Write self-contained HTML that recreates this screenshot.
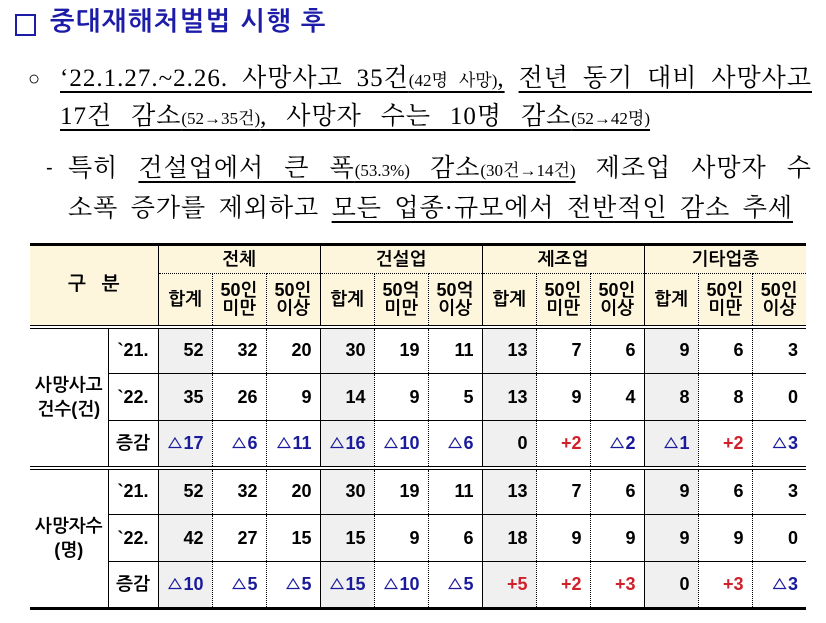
<!DOCTYPE html>
<html><head><meta charset="utf-8"><style>
body{margin:0;width:826px;height:623px;background:#fff;position:relative;overflow:hidden;font-family:"Liberation Sans","NanumGothic","Noto Sans CJK KR",sans-serif;}
.a{position:absolute;white-space:nowrap;}
.title{left:50px;top:6px;font-size:26px;font-weight:bold;color:#1c1ca8;letter-spacing:1.5px;}
.box{position:absolute;left:15px;top:14px;width:17px;height:18px;border:2px solid #1c1ca8;}
.ln{position:absolute;font-family:"Liberation Serif","Noto Serif CJK SC","NanumGothic",serif;font-size:25px;color:#000;text-align:justify;text-align-last:justify;white-space:nowrap;height:32px;line-height:32px;letter-spacing:1px;}
.s{font-size:17px;letter-spacing:0;}
.u{text-decoration:underline;text-underline-offset:5px;text-decoration-thickness:1.5px;}
table{position:absolute;left:30px;top:243px;border-collapse:collapse;table-layout:fixed;font-weight:bold;font-size:18px;}
td{padding:0;text-align:center;border:1px dotted #000;overflow:hidden;}
.h td{background:#fdf6dc;}
td.n{text-align:right;padding-right:8px;}
.g{background:#f0f0f0;}
.bl{color:#1a1a9c;}.rd{color:#d0202a;}
.sl{border-left:1px solid #000;}
tr.d{height:47px;}
</style></head><body>
<div class="box"></div>
<div class="a title">중대재해처벌법 시행 후</div>
<div class="a" style="left:28px;top:68px;font-size:20px;">○</div>
<div class="ln" style="left:60px;top:63px;width:752px;"><span class="u">‘22.1.27.~2.26. 사망사고 35건<span class="s">(42명 사망)</span>,</span> <span class="u">전년 동기 대비 사망사고</span></div>
<div class="ln" style="left:60px;top:101px;width:590px;"><span class="u">17건 감소<span class="s">(52→35건)</span>, 사망자 수는 10명 감소<span class="s">(52→42명)</span></span></div>
<div class="a" style="left:46px;top:157px;font-size:20px;">-</div>
<div class="ln" style="left:68px;top:153px;width:744px;">특히 <span class="u">건설업에서 큰 폭<span class="s">(53.3%)</span> 감소<span class="s">(30건→14건)</span></span> 제조업 사망자 수</div>
<div class="ln" style="left:68px;top:193px;width:725px;">소폭 증가를 제외하고 <span class="u">모든 업종·규모에서 전반적인 감소 추세</span></div>

<table>
<colgroup><col style="width:78px"><col style="width:50px"><col span="12" style="width:54px"></colgroup>
<tr class="h" style="height:29px;border-top:3px solid #000;"><td colspan="2" rowspan="2" style="border:none;border-right:1px solid #000;font-size:19px;">구 &nbsp;&nbsp;분</td><td colspan="3" class="sl">전체</td><td colspan="3" class="sl">건설업</td><td colspan="3" class="sl">제조업</td><td colspan="3" class="sl" style="border-right:none">기타업종</td></tr>
<tr class="h" style="height:53px;line-height:18px;border-bottom:4px double #000;"><td class="sl">합계</td><td>50인<br>미만</td><td>50인<br>이상</td><td class="sl">합계</td><td>50억<br>미만</td><td>50억<br>이상</td><td class="sl">합계</td><td>50인<br>미만</td><td>50인<br>이상</td><td class="sl">합계</td><td>50인<br>미만</td><td style="border-right:none">50인<br>이상</td></tr>
<tr class="d" style="border-bottom:1px solid #000"><td rowspan="3" style="border:none;border-right:1px solid #000;line-height:24px;">사망사고<br>건수(건)</td><td style="border:1px solid #000;">`21.</td><td class="n g sl">52</td><td class="n">32</td><td class="n">20</td><td class="n g sl">30</td><td class="n">19</td><td class="n">11</td><td class="n g sl">13</td><td class="n">7</td><td class="n">6</td><td class="n g sl">9</td><td class="n">6</td><td class="n" style="border-right:none">3</td></tr>
<tr class="d" style="border-bottom:1px solid #000"><td style="border:1px solid #000;">`22.</td><td class="n g sl">35</td><td class="n">26</td><td class="n">9</td><td class="n g sl">14</td><td class="n">9</td><td class="n">5</td><td class="n g sl">13</td><td class="n">9</td><td class="n">4</td><td class="n g sl">8</td><td class="n">8</td><td class="n" style="border-right:none">0</td></tr>
<tr class="d" style="border-bottom:4px double #000"><td style="border:1px solid #000;">증감</td><td class="n g sl bl">△17</td><td class="n bl">△6</td><td class="n bl">△11</td><td class="n g sl bl">△16</td><td class="n bl">△10</td><td class="n bl">△6</td><td class="n g sl">0</td><td class="n rd">+2</td><td class="n bl">△2</td><td class="n g sl bl">△1</td><td class="n rd">+2</td><td class="n bl" style="border-right:none">△3</td></tr>
<tr class="d" style="border-bottom:1px solid #000"><td rowspan="3" style="border:none;border-right:1px solid #000;line-height:24px;">사망자수<br>(명)</td><td style="border:1px solid #000;">`21.</td><td class="n g sl">52</td><td class="n">32</td><td class="n">20</td><td class="n g sl">30</td><td class="n">19</td><td class="n">11</td><td class="n g sl">13</td><td class="n">7</td><td class="n">6</td><td class="n g sl">9</td><td class="n">6</td><td class="n" style="border-right:none">3</td></tr>
<tr class="d" style="border-bottom:1px solid #000"><td style="border:1px solid #000;">`22.</td><td class="n g sl">42</td><td class="n">27</td><td class="n">15</td><td class="n g sl">15</td><td class="n">9</td><td class="n">6</td><td class="n g sl">18</td><td class="n">9</td><td class="n">9</td><td class="n g sl">9</td><td class="n">9</td><td class="n" style="border-right:none">0</td></tr>
<tr class="d" style="border-bottom:3px solid #000"><td style="border:1px solid #000;border-bottom:3px solid #000;">증감</td><td class="n g sl bl">△10</td><td class="n bl">△5</td><td class="n bl">△5</td><td class="n g sl bl">△15</td><td class="n bl">△10</td><td class="n bl">△5</td><td class="n g sl rd">+5</td><td class="n rd">+2</td><td class="n rd">+3</td><td class="n g sl">0</td><td class="n rd">+3</td><td class="n bl" style="border-right:none">△3</td></tr>
</table>
</body></html>
